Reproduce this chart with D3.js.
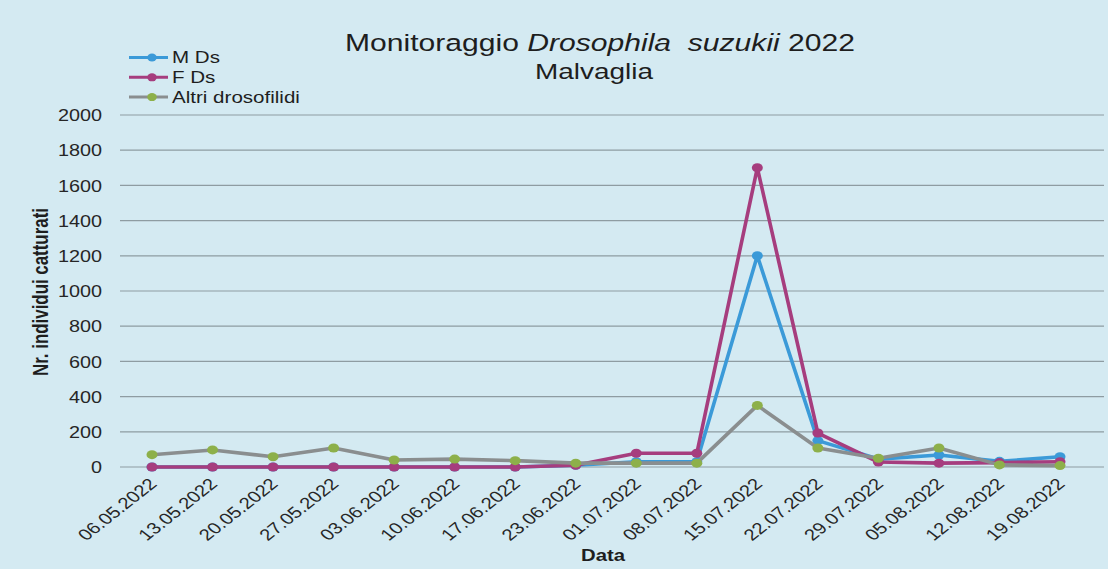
<!DOCTYPE html>
<html><head><meta charset="utf-8">
<script src="https://cdn.jsdelivr.net/npm/d3@7"></script>
<style>
html,body{margin:0;padding:0;background:#d4eaf2;}
svg{display:block;font-family:"Liberation Sans",Arial,sans-serif;}
</style></head>
<body>
<svg id="chart" width="1108" height="569"></svg>
<script>
const dates = ["06.05.2022","13.05.2022","20.05.2022","27.05.2022","03.06.2022","10.06.2022","17.06.2022","23.06.2022","01.07.2022","08.07.2022","15.07.2022","22.07.2022","29.07.2022","05.08.2022","12.08.2022","19.08.2022"];
const mDs = [0,0,0,0,0,0,0,10,30,30,1200,150,45,68,32,58];
const fDs = [0,0,0,0,0,0,0,10,78,78,1700,193,28,22,25,30];
const altri = [70,97,58,108,40,45,36,22,22,22,350,108,50,108,12,8];
const yTicks = [0,200,400,600,800,1000,1200,1400,1600,1800,2000];
const seriesNames = ["M Ds","F Ds","Altri drosofilidi"];

const SX = 1.27; // horizontal stretch of the text, as in the photographed chart
const FONT = '"Liberation Sans", Arial, sans-serif';
const INK = "#1e1e1e";

const svg = d3.select("#chart");
const x = d3.scalePoint().domain(dates).range([152,1060]);
const y = d3.scaleLinear().domain([0,2000]).range([467,115]);

// gridlines
svg.append("g").selectAll("line").data(yTicks).join("line")
  .attr("x1",120).attr("x2",1104)
  .attr("y1",d=>y(d)).attr("y2",d=>y(d))
  .attr("stroke","#8e9ca2").attr("stroke-width",1.2);

// y axis labels
const yAxis = d3.axisLeft(y).tickValues(yTicks).tickFormat(d3.format("d")).tickSize(0).tickPadding(0);
const gy = svg.append("g").attr("transform","translate(102,0)").call(yAxis);
gy.select(".domain").remove();
gy.selectAll(".tick text")
  .attr("x",0).attr("dy","0.36em")
  .attr("transform",`scale(${SX},1)`)
  .attr("font-size",15.6).attr("fill","#262626").attr("font-family",FONT);

// x axis labels
const xAxis = d3.axisBottom(x).tickSize(0).tickPadding(0);
const gx = svg.append("g").call(xAxis);
gx.select(".domain").remove();
gx.selectAll(".tick").attr("transform",d=>`translate(${x(d)+1},481)`);
gx.selectAll(".tick text")
  .attr("y",0).attr("x",0).attr("dy","0.35em")
  .attr("font-size",16).attr("fill","#262626").attr("font-family",FONT)
  .attr("text-anchor","end")
  .attr("transform",`scale(${SX},1) rotate(-45)`);

// series
const series = [
  {name:seriesNames[0], vals:mDs, line:"#3b9ad8", dot:"#3b9ad8"},
  {name:seriesNames[1], vals:fDs, line:"#a63d7e", dot:"#a63d7e"},
  {name:seriesNames[2], vals:altri, line:"#8a8e8f", dot:"#8db04a"}
];
const line = d3.line().x((d,i)=>x(dates[i])).y(d=>y(d));
series.forEach(s=>{
  svg.append("path").datum(s.vals).attr("d",line)
    .attr("fill","none").attr("stroke",s.line).attr("stroke-width",3.6).attr("stroke-linejoin","round");
  svg.append("g").selectAll("ellipse").data(s.vals).join("ellipse")
    .attr("cx",(d,i)=>x(dates[i])).attr("cy",d=>y(d)).attr("rx",5.5).attr("ry",4.5).attr("fill",s.dot);
});

// legend
const lg = svg.append("g");
series.forEach((s,i)=>{
  const yy = 57.5 + i*19.8;
  lg.append("line").attr("x1",129).attr("x2",168).attr("y1",yy).attr("y2",yy).attr("stroke",s.line).attr("stroke-width",3);
  lg.append("ellipse").attr("cx",152).attr("cy",yy).attr("rx",4.8).attr("ry",4).attr("fill",s.dot);
  lg.append("text").attr("transform",`translate(172,${yy}) scale(${SX},1)`).attr("dy","0.36em")
    .attr("font-size",16.2).attr("fill",INK).attr("font-family",FONT).text(s.name);
});

// title
const t = svg.append("text").attr("transform",`translate(600,51) scale(${SX},1)`).attr("text-anchor","middle")
  .attr("font-size",23.7).attr("fill",INK).attr("font-family",FONT);
t.append("tspan").text("Monitoraggio ");
t.append("tspan").attr("font-style","italic").text("Drosophila\u00a0\u00a0suzukii");
t.append("tspan").text(" 2022");
svg.append("text").attr("transform",`translate(594,79) scale(${SX},1)`).attr("text-anchor","middle")
  .attr("font-size",22).attr("fill",INK).attr("font-family",FONT).text("Malvaglia");

// axis titles
svg.append("text").attr("transform",`translate(48,292) scale(${SX},1) rotate(-90)`).attr("text-anchor","middle")
  .attr("font-size",16.9).attr("font-weight","bold").attr("fill",INK).attr("font-family",FONT).text("Nr. individui catturati");
svg.append("text").attr("transform",`translate(603,561) scale(${SX},1)`).attr("text-anchor","middle")
  .attr("font-size",16).attr("font-weight","bold").attr("fill",INK).attr("font-family",FONT).text("Data");
</script>
</body></html>
